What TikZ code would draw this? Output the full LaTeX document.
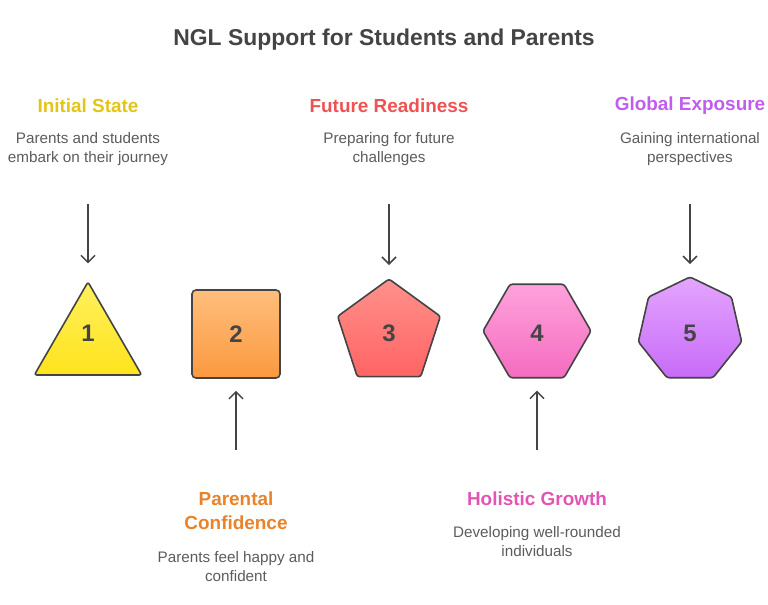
\documentclass[tikz,border=0pt]{standalone}
\usepackage{fontspec}
\setmainfont{Liberation Sans}
\usetikzlibrary{shapes.geometric,arrows.meta}
\definecolor{ink}{HTML}{444444}
\definecolor{txt}{HTML}{5C5C5C}
\definecolor{hyel}{HTML}{E3C419}
\definecolor{hora}{HTML}{E8832C}
\definecolor{hred}{HTML}{EE5252}
\definecolor{hpin}{HTML}{E255B2}
\definecolor{hpur}{HTML}{C15DEE}
\begin{document}
\begin{tikzpicture}[x=1bp, y=-1bp,
  blob/.style={draw=ink, line width=1.6bp, rounded corners=2.5bp, inner sep=0pt},
  poly/.style={blob, regular polygon, regular polygon sides=#1},
  num/.style={font=\fontsize{24}{26}\selectfont\bfseries, text=ink},
  head/.style={font=\fontsize{19}{24}\selectfont\bfseries, align=center},
  desc/.style={font=\fontsize{15.3}{19}\selectfont, text=txt, align=center},
  arr/.style={draw=ink, line width=1.5bp, -{Straight Barb[length=7bp,width=14bp]}}]
  \useasboundingbox (0,0) rectangle (768,605);
  \node (T) at (384,40) [font=\fontsize{23}{26}\selectfont\bfseries, text=ink] {NGL Support for Students and Parents};

  \node (S1) at (88,344) [poly=3, minimum size=124bp, top color={rgb,255:red,255;green,241;blue,94}, bottom color={rgb,255:red,255;green,227;blue,28}] {};
  \node (S2) at (236,334) [blob, rectangle, rounded corners=4bp, minimum size=88bp, top color={rgb,255:red,255;green,190;blue,124}, bottom color={rgb,255:red,251;green,153;blue,64}] {};
  \node (S3) at (389,333) [poly=5, minimum size=108bp, top color={rgb,255:red,255;green,145;blue,140}, bottom color={rgb,255:red,255;green,100;blue,100}] {};
  \node (S4) at (537,331) [poly=6, minimum size=108bp, top color={rgb,255:red,255;green,162;blue,219}, bottom color={rgb,255:red,244;green,108;blue,192}] {};
  \node (S5) at (690,330) [poly=7, minimum size=106bp, top color={rgb,255:red,228;green,165;blue,255}, bottom color={rgb,255:red,199;green,107;blue,247}] {};

  \node (N1) at (88,333) [num] {1};
  \node (N2) at (236,334) [num] {2};
  \node (N3) at (389,333) [num] {3};
  \node (N4) at (537,333) [num] {4};
  \node (N5) at (690,333) [num] {5};

  \node (H1) at (88,106) [head, text=hyel] {Initial State};
  \node (D1) at (88,149) [desc] {Parents and students\\embark on their journey};
  \node (H3) at (389,106) [head, text=hred] {Future Readiness};
  \node (D3) at (389,149) [desc] {Preparing for future\\challenges};
  \node (H5) at (690,106) [head, text=hpur] {Global Exposure};
  \node (D5) at (690,149) [desc] {Gaining international\\perspectives};
  \node (H2) at (236,511) [head, text=hora] {Parental\\Confidence};
  \node (D2) at (236,567) [desc] {Parents feel happy and\\confident};
  \node (H4) at (537,499) [head, text=hpin] {Holistic Growth};
  \node (D4) at (537,542) [desc] {Developing well-rounded\\individuals};

  \coordinate (A1) at (88,204);
  \coordinate (A3) at (389,204);
  \coordinate (A5) at (690,204);
  \coordinate (A2) at (236,450);
  \coordinate (A4) at (537,450);
  \draw[arr, shorten >=17bp] (A1) -- (S1.north);
  \draw[arr, shorten >=13bp] (A3) -- (S3.north);
  \draw[arr, shorten >=12bp] (A5) -- (S5.north);
  \draw[arr, shorten >=12bp] (A2) -- (S2.south);
  \draw[arr, shorten >=12bp] (A4) -- (S4.south);
\end{tikzpicture}
\end{document}
